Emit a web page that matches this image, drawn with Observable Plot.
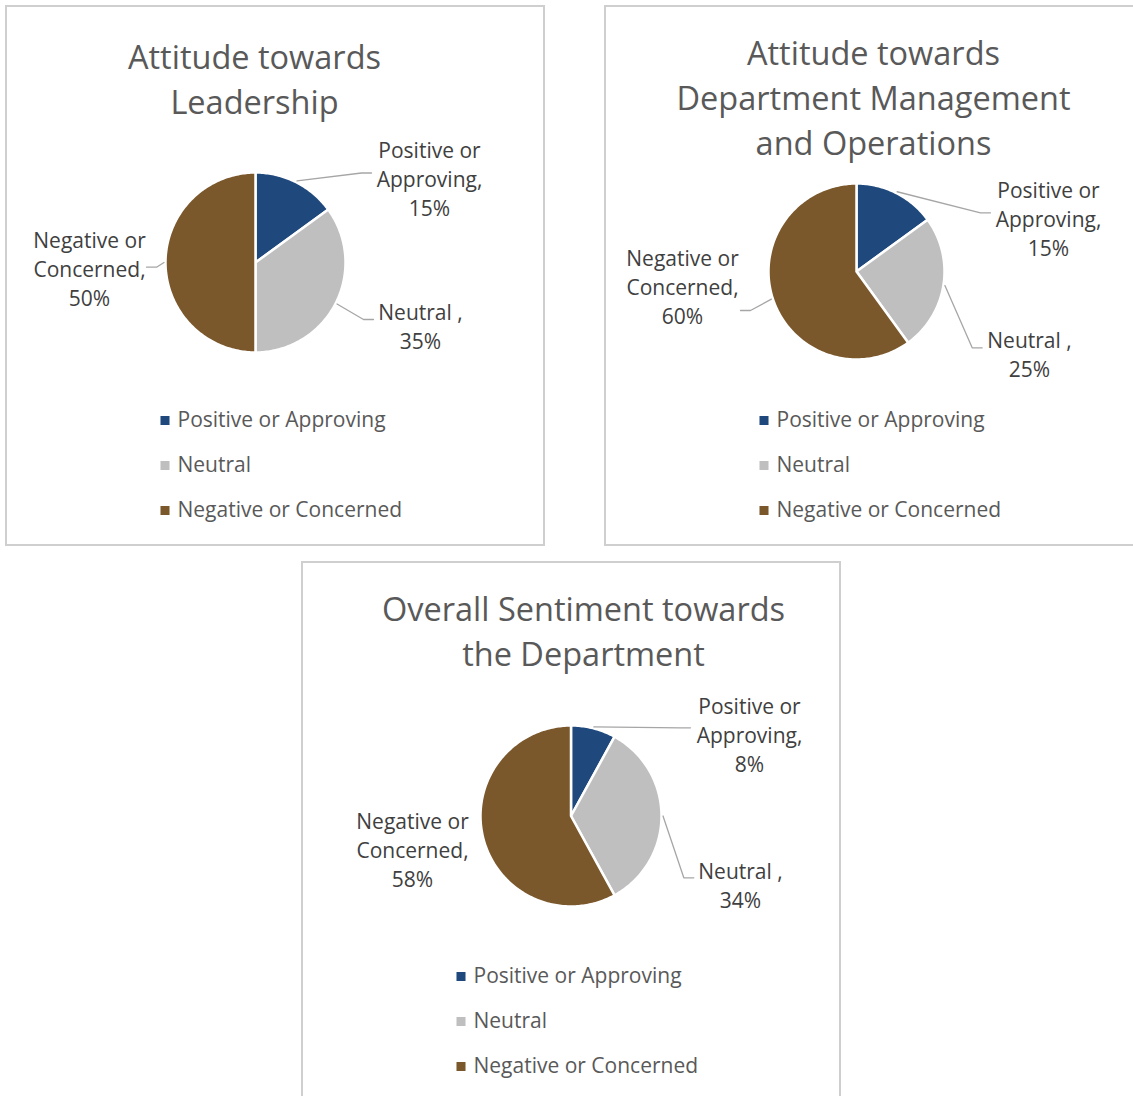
<!DOCTYPE html>
<html>
<head>
<meta charset="utf-8">
<script src="https://cdn.jsdelivr.net/npm/d3@7"></script>
<script src="https://cdn.jsdelivr.net/npm/@observablehq/plot@0.6"></script>
<style>
  html, body { margin: 0; padding: 0; background: #ffffff; }
  body { width: 1133px; height: 1096px; overflow: hidden; position: relative; font-family: "Open Sans", sans-serif; }
  .frame { position: absolute; box-sizing: border-box; width: 540px; height: 541px; border: 2px solid #cfcfcf; }
  .chart { position: absolute; width: 538px; height: 539px; }
  .chart svg { max-width: none !important; width: 538px; height: 539px; display: block; }
</style>
</head>
<body>
<div class="frame" style="left:5px;top:5px"></div>
<div class="frame" style="left:604px;top:5px"></div>
<div class="frame" style="left:301px;top:561px"></div>
<div id="c1" class="chart" style="left:6px;top:6px"></div>
<div id="c2" class="chart" style="left:605px;top:6px"></div>
<div id="c3" class="chart" style="left:302px;top:562px"></div>
<script>
// ---------- data ----------
const categories = ["Positive or Approving", "Neutral ", "Negative or Concerned"];
const sliceColors = ["#1F497D", "#BFBFBF", "#7B582C"];
const leadershipValues = [15, 35, 50];
const managementValues = [15, 25, 60];
const overallValues = [8, 34, 58];
const titles = [
  "Attitude towards\nLeadership",
  "Attitude towards\nDepartment Management\nand Operations",
  "Overall Sentiment towards\nthe Department"
];

// ---------- layout (panel-local pixels) ----------
const layouts = [
  { cx: 249, cy: 256, r: 90, titleX: 248, titleY: 73,
    labels: [ {tx: 423, ty: 173, ex: 365, ey: 166.5},
              {tx: 414, ty: 320.5, ex: 367, ey: 313},
              {tx: 83, ty: 263, ex: 140, ey: 260.7} ] },
  { cx: 251, cy: 265, r: 88, titleX: 268, titleY: 91,
    labels: [ {tx: 443, ty: 213, ex: 385, ey: 206.3},
              {tx: 424, ty: 348.5, ex: 376.7, ey: 341.3},
              {tx: 77, ty: 281, ex: 135, ey: 304} ] },
  { cx: 268.5, cy: 253.5, r: 90.5, titleX: 281, titleY: 69,
    labels: [ {tx: 447, ty: 173, ex: 388, ey: 165.3},
              {tx: 438, ty: 323.5, ex: 391.3, ey: 315.3},
              {tx: 110, ty: 288, ex: null, ey: null} ] }
];
const W = 538, H = 539;

function wrap(str, maxChars) {
  const words = str.split(" ");
  const lines = [];
  let cur = "";
  for (const w of words) {
    const cand = cur ? cur + " " + w : w;
    if (cand.length > maxChars && cur) { lines.push(cur); cur = w; }
    else cur = cand;
  }
  if (cur) lines.push(cur);
  return lines.join("\n");
}

function makePanel(values, title, L) {
  const pie = d3.pie().sort(null)(values);
  const total = d3.sum(values);
  const slicePts = [];
  pie.forEach((p, i) => {
    const cat = categories[i];
    slicePts.push({cat, x: L.cx, y: L.cy});
    const n = Math.max(2, Math.ceil((p.endAngle - p.startAngle) / (Math.PI / 180)));
    for (let k = 0; k <= n; k++) {
      const a = p.startAngle + (p.endAngle - p.startAngle) * k / n;
      slicePts.push({cat, x: L.cx + L.r * Math.sin(a), y: L.cy - L.r * Math.cos(a)});
    }
  });

  const labelData = pie.map((p, i) => ({
    text: wrap(`${categories[i]}, ${Math.round(values[i] / total * 100)}%`, 11),
    x: L.labels[i].tx, y: L.labels[i].ty
  }));

  const leaders = [];
  pie.forEach((p, i) => {
    const l = L.labels[i];
    if (l.ex == null) return;
    const a = (p.startAngle + p.endAngle) / 2;
    const side = l.ex > L.cx ? 1 : -1;
    leaders.push({id: i, x: L.cx + (L.r + 1.5) * Math.sin(a), y: L.cy - (L.r + 1.5) * Math.cos(a)});
    leaders.push({id: i, x: l.ex - side * 10, y: l.ey});
    leaders.push({id: i, x: l.ex, y: l.ey});
  });

  const legend = categories.map((c, i) => ({cat: c, label: c.trim(), x: 158.5, tx: 171, y: 414 + i * 45}));

  return Plot.plot({
    width: W, height: H, margin: 0,
    x: {domain: [0, W], range: [0, W], axis: null},
    y: {domain: [0, H], range: [0, H], axis: null},
    color: {domain: categories, range: sliceColors},
    style: {fontFamily: "'Open Sans', sans-serif", background: "transparent", overflow: "visible"},
    marks: [
      Plot.text([title], {x: L.titleX, y: L.titleY, text: d => d, fontSize: 32.5, lineHeight: 1.385, fill: "#595959", dy: -2}),
      Plot.line(slicePts, {x: "x", y: "y", z: "cat", fill: "cat", stroke: "#ffffff", strokeWidth: 2.5, strokeLinejoin: "round", curve: "linear-closed"}),
      Plot.line(leaders, {x: "x", y: "y", z: "id", stroke: "#A6A6A6", strokeWidth: 1.3}),
      Plot.text(labelData, {x: "x", y: "y", text: "text", fontSize: 21, lineHeight: 1.38, fill: "#404040", dy: -2}),
      Plot.dot(legend, {x: "x", y: "y", fill: "cat", symbol: "square", r: 5.1}),
      Plot.text(legend, {x: "tx", y: "y", text: "label", fontSize: 21, textAnchor: "start", fill: "#595959"})
    ]
  });
}

document.getElementById("c1").appendChild(makePanel(leadershipValues, titles[0], layouts[0]));
document.getElementById("c2").appendChild(makePanel(managementValues, titles[1], layouts[1]));
document.getElementById("c3").appendChild(makePanel(overallValues, titles[2], layouts[2]));
</script>
</body>
</html>
